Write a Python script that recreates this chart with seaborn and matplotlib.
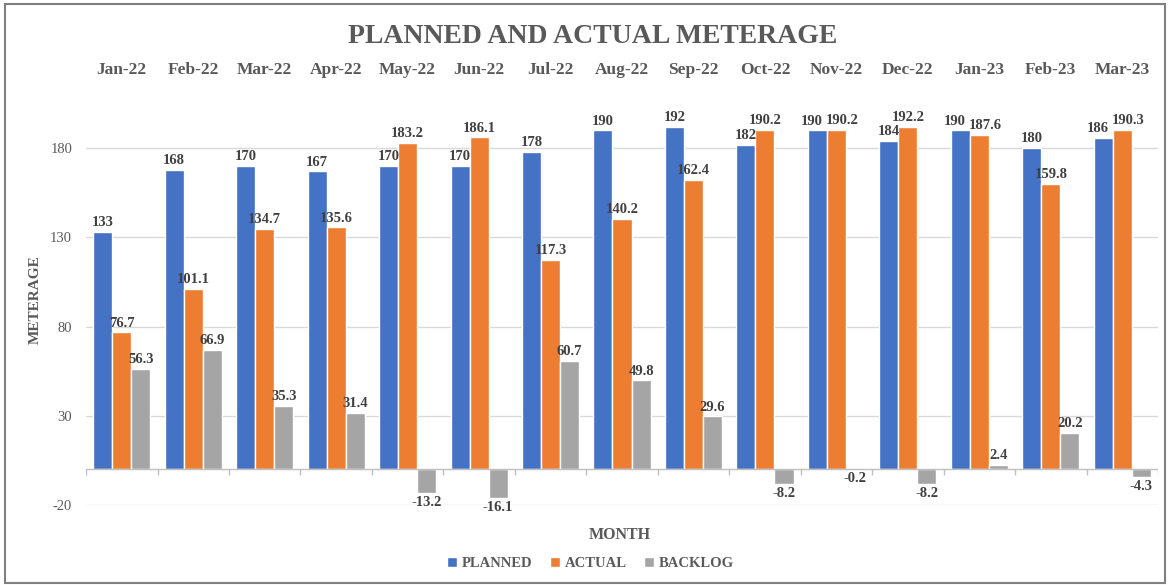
import numpy as np
import pandas as pd
import matplotlib
matplotlib.use('Agg')
import matplotlib.pyplot as plt
from matplotlib.patches import Rectangle
import seaborn as sns

months = ['Jan-22', 'Feb-22', 'Mar-22', 'Apr-22', 'May-22', 'Jun-22', 'Jul-22', 'Aug-22',
          'Sep-22', 'Oct-22', 'Nov-22', 'Dec-22', 'Jan-23', 'Feb-23', 'Mar-23']
planned = [133, 168, 170, 167, 170, 170, 178, 190, 192, 182, 190, 184, 190, 180, 186]
actual = [76.7, 101.1, 134.7, 135.6, 183.2, 186.1, 117.3, 140.2, 162.4, 190.2, 190.2, 192.2, 187.6, 159.8, 190.3]
backlog = [56.3, 66.9, 35.3, 31.4, -13.2, -16.1, 60.7, 49.8, 29.6, -8.2, -0.2, -8.2, 2.4, 20.2, -4.3]
series = ['PLANNED', 'ACTUAL', 'BACKLOG']
colors = ['#4472C4', '#ED7D31', '#A5A5A5']
yticks = [-20, 30, 80, 130, 180]

df = pd.DataFrame({'month': months, 'PLANNED': planned, 'ACTUAL': actual, 'BACKLOG': backlog})
long = df.melt(id_vars='month', var_name='series', value_name='value')

sns.set_style('white')
plt.rcParams['font.family'] = ['Liberation Serif', 'DejaVu Serif']
plt.rcParams['axes.unicode_minus'] = False
txt = '#595959'

fig = plt.figure(figsize=(11.69, 5.85), dpi=100)
ax = fig.add_axes([0.0736, 0.137, 0.917, 0.701])

sns.barplot(data=long, x='month', y='value', hue='series', hue_order=series,
            palette=colors, width=0.8, saturation=1, ax=ax, legend=True)

labs = []
for cont in ax.containers:
    labs.append(ax.bar_label(cont, fmt='%g', padding=2, fontsize=10.5, fontweight='bold', color='#404040'))

# nudge planned/actual labels apart where the two bars are nearly equal height
for i in range(len(months)):
    if abs(planned[i] - actual[i]) < 6:
        labs[0][i].xyann = (-4, 2)
        labs[1][i].xyann = (4, 2)

ax.set_ylim(-20, 210)
ax.set_yticks(yticks)
ax.grid(axis='y', color='#D9D9D9', linewidth=1)
ax.set_axisbelow(True)
for s in ax.spines.values():
    s.set_visible(False)

# zero line with category separators
ax.axhline(0, color='#BFBFBF', linewidth=1, zorder=1)
ax.vlines(np.arange(len(months) + 1) - 0.5, -3, 0, color='#BFBFBF', linewidth=1)
ax.set_xlim(-0.5, len(months) - 0.5)

ax.xaxis.tick_top()
ax.tick_params(axis='x', length=0, pad=12, labelsize=12.5, labelcolor=txt)
for lab in ax.get_xticklabels():
    lab.set_fontweight('bold')
ax.tick_params(axis='y', length=0, labelsize=10.5, labelcolor=txt, pad=10)
ax.set_xlabel('')
ax.set_ylabel('METERAGE', fontsize=11, fontweight='bold', color=txt, labelpad=6)

fig.text(0.507, 0.938, 'PLANNED AND ACTUAL METERAGE', ha='center', va='center',
         fontsize=20, fontweight='bold', color=txt)
fig.text(0.53, 0.085, 'MONTH', ha='center', va='center', fontsize=11.5,
         fontweight='bold', color=txt)

handles, labels = ax.get_legend_handles_labels()
ax.legend(handles, labels, loc='center', bbox_to_anchor=(0.505, 0.037), bbox_transform=fig.transFigure,
          ncol=3, frameon=False, handlelength=0.7, handleheight=0.7, handletextpad=0.3,
          columnspacing=1.2, prop={'size': 10.5, 'weight': 'bold'}, labelcolor=txt)

fig.patches.append(Rectangle((0.004, 0.004), 0.993, 0.99, transform=fig.transFigure,
                             fill=False, edgecolor='#7F7F7F', linewidth=1.5))

fig.savefig('out.png', dpi=100)
